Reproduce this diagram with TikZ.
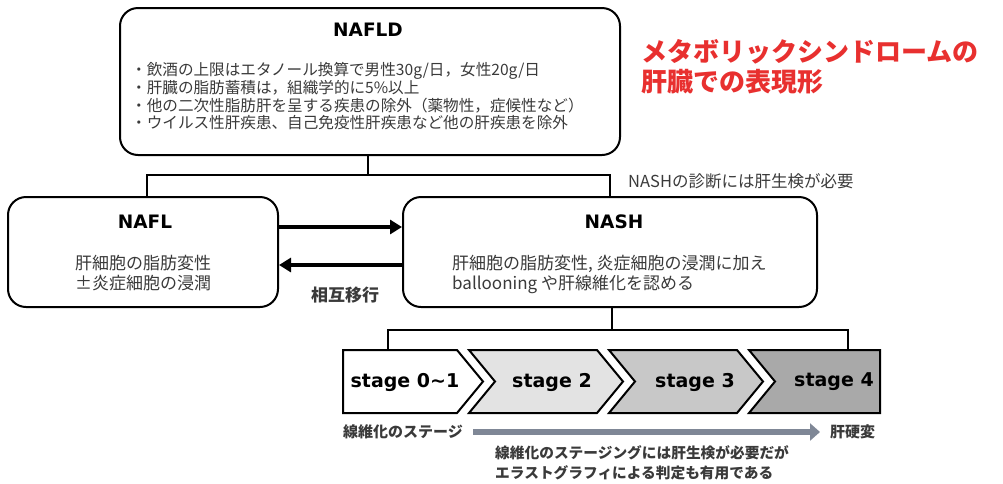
\documentclass[tikz,border=0pt]{standalone}
\usepackage{fontspec}
\setmainfont{Noto Sans CJK JP}
\newfontfamily\latf{DejaVu Sans}
\usetikzlibrary{arrows.meta}
\definecolor{redt}{HTML}{E8302F}
\definecolor{bodyc}{HTML}{3A3A3A}
\definecolor{arrowg}{HTML}{7F8796}
\definecolor{st2}{HTML}{E3E3E3}
\definecolor{st3}{HTML}{C8C8C8}
\definecolor{st4}{HTML}{A9A9A9}
\tikzset{
  rbox/.style={draw=black, line width=2pt, rounded corners=18pt, fill=white, inner sep=0pt},
  title/.style={font=\latf\bfseries\fontsize{18.5}{20}\selectfont, inner sep=0pt},
  body/.style={text=bodyc, inner sep=0pt},
  link/.style={draw=black, line width=2pt},
  bigarrow/.style={line width=4pt, -{Triangle[length=12pt,width=14pt]}},
  chev/.style={draw=black, line width=2pt, line join=miter},
  stagetxt/.style={font=\latf\bfseries\fontsize{19}{22}\selectfont, inner sep=0pt},
  grayarrow/.style={draw=arrowg, line width=6pt, -{Triangle[length=10pt,width=17pt]}},
  boldlab/.style={font=\bfseries\fontsize{15}{18}\selectfont, text=bodyc, inner sep=0pt},
}
\begin{document}
\begin{tikzpicture}[x=1pt,y=-1pt]
\useasboundingbox (0,0) rectangle (1003,483);

% boxes
\node[rbox, minimum width=500pt, minimum height=147pt] (nafld) at (370,81.5) {};
\node[rbox, minimum width=270pt, minimum height=110pt] (nafl) at (143,252) {};
\node[rbox, minimum width=414pt, minimum height=110pt] (nash) at (610,252) {};

% NAFLD content
\node[title] (nafldt) at (368,30) {NAFLD};
\node[body, anchor=west, align=left, font=\fontsize{15.6}{17.7}\selectfont] (nafldb) at (131,96.5)
  {・飲酒の上限はエタノール換算で男性30g/日，女性20g/日\\
   ・肝臓の脂肪蓄積は，組織学的に5\%以上\\
   ・他の二次性脂肪肝を呈する疾患の除外（薬物性，症候性など）\\
   ・ウイルス性肝疾患、自己免疫性肝疾患など他の肝疾患を除外};

% NAFL content
\node[title] (naflt) at (145,222) {NAFL};
\node[body, align=center, font=\fontsize{17}{20}\selectfont] (naflb) at (143,273)
  {肝細胞の脂肪変性\\±炎症細胞の浸潤};

% NASH content
\node[title] (nasht) at (614,222) {NASH};
\node[body, anchor=west, align=left, font=\fontsize{17}{20}\selectfont] (nashb) at (452,274)
  {肝細胞の脂肪変性, 炎症細胞の浸潤に加え\\ballooning や肝線維化を認める};

% red heading
\node[anchor=west, text=redt, align=left, inner sep=0pt, font=\bfseries\fontsize{26}{30}\selectfont] (red) at (641,67)
  {メタボリックシンドロームの\\肝臓での表現形};

% note
\node[body, anchor=west, font=\fontsize{16.5}{20}\selectfont] (note) at (628,181) {NASHの診断には肝生検が必要};

% tree connectors
\coordinate (jm) at (368,175);
\coordinate (jl) at (147,175);
\coordinate (jr) at (610,175);
\draw[link] (nafld.south -| jm) -- (jm);
\draw[link] (jl |- nafl.north) -- (jl) -- (jr) -- (nash.north);

% mutual arrows
\draw[bigarrow] (nafl.east |- 0,227) -- (nash.west |- 0,227);
\draw[bigarrow] (nash.west |- 0,265) -- (nafl.east |- 0,265);
\node[font=\bfseries\fontsize{17}{20}\selectfont, text=bodyc, inner sep=0pt] (mutual) at (345,295) {相互移行};

% stages
\draw[chev, fill=white] (343,350) -- (457,350) -- (483,381.5) -- (457,413) -- (343,413) -- cycle;
\draw[chev, fill=st2] (469,350) -- (597,350) -- (623,381.5) -- (597,413) -- (469,413) -- (495,381.5) -- cycle;
\draw[chev, fill=st3] (609,350) -- (737,350) -- (763,381.5) -- (737,413) -- (609,413) -- (635,381.5) -- cycle;
\draw[chev, fill=st4] (749,350) -- (880,350) -- (880,413) -- (749,413) -- (775,381.5) -- cycle;
\node[stagetxt] (s1) at (405,382) {stage 0{\char"7E}1};
\node[stagetxt] (s2) at (552,382) {stage 2};
\node[stagetxt] (s3) at (695,382) {stage 3};
\node[stagetxt] (s4) at (834,382) {stage 4};

\coordinate (sl) at (388,350);
\coordinate (sr) at (848,350);
\coordinate (bj) at (612,330);
\draw[link] (nash.south -| bj) -- (bj);
\draw[link] (sl) -- (sl |- bj) -- (sr |- bj) -- (sr);

% fibrosis arrow
\node[boldlab, anchor=west] (fibl) at (343,432) {線維化のステージ};
\node[boldlab, anchor=west] (cirr) at (830,432) {肝硬変};
\draw[grayarrow, shorten <=10pt, shorten >=10pt] (fibl.east) -- (cirr.west);

\node[boldlab, anchor=west, align=left, font=\bfseries\fontsize{14.7}{20}\selectfont] (bottom) at (495,463)
  {線維化のステージングには肝生検が必要だが\\エラストグラフィによる判定も有用である};
\end{tikzpicture}
\end{document}
